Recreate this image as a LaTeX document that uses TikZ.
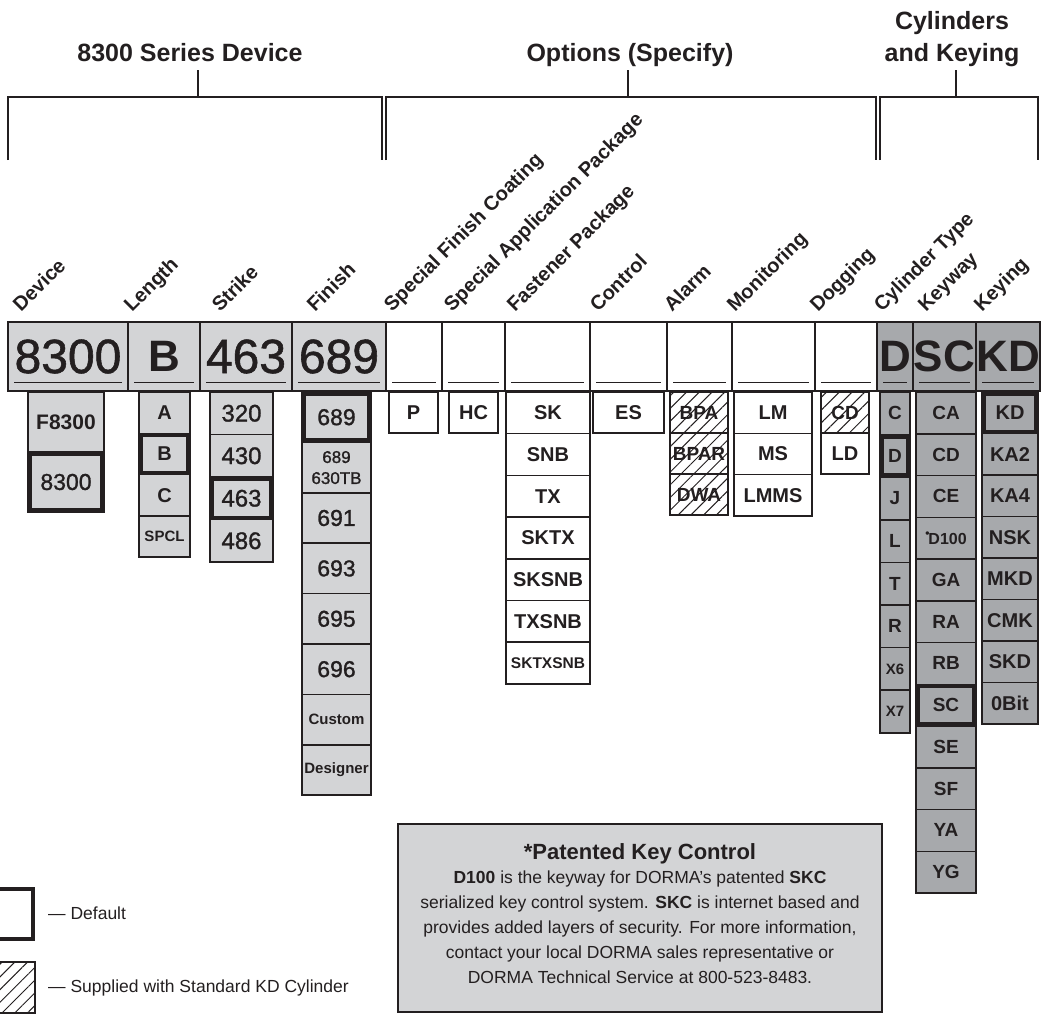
\documentclass[tikz,border=0pt]{standalone}
\usepackage{fontspec}
\setmainfont{Liberation Sans}
\newfontfamily\medfont{Liberation Sans}[FakeBold=1.2]
\usetikzlibrary{positioning,patterns.meta}
\definecolor{xInk}{RGB}{35,31,32}
\definecolor{xLightBox}{RGB}{211,212,214}
\definecolor{xDarkBox}{RGB}{167,169,172}
\newcommand{\fsz}[1]{\fontsize{#1}{#1}\selectfont}
\newcommand{\keydot}{\raisebox{.45em}{\fsz{12}•}\kern-1pt}

\tikzset{
  cell/.style={draw=xInk, line width=1.5pt, anchor=north west, inner sep=0pt, outer sep=0pt, align=center, text=xInk},
  gnum/.style={cell, fill=xLightBox, font=\medfont\fsz{23}},
  gbold/.style={cell, fill=xLightBox, font=\fsz{21}\bfseries},
  glet/.style={cell, fill=xLightBox, font=\fsz{20}\bfseries},
  gsm/.style={cell, fill=xLightBox, font=\fsz{15}\bfseries},
  gtwo/.style={cell, fill=xLightBox, font=\medfont\fontsize{17}{21}\selectfont, text width=56pt},
  wlet/.style={cell, fill=white, font=\fsz{20}\bfseries},
  wsm/.style={cell, fill=white, font=\fsz{15.5}\bfseries},
  hlet/.style={cell, pattern={Lines[angle=45,distance=9pt,line width=1pt]}, pattern color=xInk, font=\fsz{19}\bfseries},
  dlet/.style={cell, fill=xDarkBox, font=\fsz{19}\bfseries},
  dsm/.style={cell, fill=xDarkBox, font=\fsz{15}\bfseries},
  kwlet/.style={cell, fill=xDarkBox, font=\fsz{19}\bfseries},
  kwsm/.style={cell, fill=xDarkBox, font=\fsz{16}\bfseries},
  kglet/.style={cell, fill=xDarkBox, font=\fsz{20}\bfseries},
  dflt/.style={draw=xInk, line width=4pt},
  bignum/.style={font=\medfont\fsz{48}},
  biglet/.style={font=\fsz{44}\bfseries},
  barcell/.style={cell, minimum height=69},
  collab/.style={rotate=45, anchor=base west, inner sep=0pt, font=\fsz{20}\bfseries, text=xInk},
  sechead/.style={anchor=base, inner sep=0pt, font=\fsz{25}\bfseries, text=xInk},
  bracketline/.style={draw=xInk, line width=2pt},
}

\begin{document}
\begin{tikzpicture}[x=1pt,y=-1pt]
    \useasboundingbox (0,0) rectangle (1042,1015);

    % section headers and brackets
    \node[sechead] (secdev) at (190,61) {8300 Series Device};
    \node[sechead] (secopt) at (630,61) {Options (Specify)};
    \node[sechead] (seccyl) at (952,61) {and Keying};
    \node[sechead] (seccyltop) at (952,29) {Cylinders};
    \draw[bracketline] (8,160) |- (382,97) -- (382,160);
    \draw[bracketline] (386,160) |- (876,97) -- (876,160);
    \draw[bracketline] (880,160) |- (1038,97) -- (1038,160);
    \draw[bracketline] (198,70) -- (198,97);
    \draw[bracketline] (628,70) -- (628,97);
    \draw[bracketline] (956,70) -- (956,97);

    % column titles
    \foreach \lab/\xx [count=\i] in {Device/21, Length/132, Strike/220, Finish/315,
        Special Finish Coating/392, Special Application Package/452, Fastener Package/515,
        Control/598, Alarm/672, Monitoring/735, Dogging/818, Cylinder Type/882,
        Keyway/926, Keying/982}
      \node[collab] (hd\i) at (\xx,313) {\lab};

    % the model number bar
    \foreach \xa/\xb/\col/\val/\sty [count=\i] in {8/128/xLightBox/8300/bignum,
        128/200/xLightBox/B/biglet, 200/292/xLightBox/463/bignum, 292/386/xLightBox/689/bignum,
        386/442/white//bignum, 442/505/white//bignum, 505/590/white//bignum,
        590/667/white//bignum, 667/732/white//bignum, 732/815/white//bignum,
        815/877/white//bignum, 877/913/xDarkBox/D/biglet, 913/976/xDarkBox/SC/biglet,
        976/1040/xDarkBox/KD/biglet}
      \node[barcell, \sty, fill=\col, minimum width={\xb-\xa}] (bar\i) at (\xa,322) {\val};
    \foreach \i in {1,...,14}
      \draw[xInk, line width=0.8pt] ([shift={(6,-9)}]bar\i.south west) -- ([shift={(-6,-9)}]bar\i.south east);
    \draw[xInk, line width=2.5pt] (bar1.north west) rectangle (bar14.south east);

    % 8300 series device
    \foreach \lab/\sty [count=\i from 0] in {F8300/gbold, 8300/gnum}
      \node[\sty, minimum width=76, minimum height=60] (dev\i) at (28,392+60*\i) {\lab};
    \foreach \lab/\sty [count=\i from 0] in {A/glet, B/glet, C/glet, SPCL/gsm}
      \node[\sty, minimum width=51, minimum height=41.3] (len\i) at (139,392+41.3*\i) {\lab};
    \foreach \lab/\sty [count=\i from 0] in {320/gnum, 430/gnum, 463/gnum, 486/gnum}
      \node[\sty, font=\medfont\fsz{24}, minimum width=63, minimum height=42.5] (stk\i) at (210,392+42.5*\i) {\lab};
    \foreach \lab/\sty [count=\i from 0] in {689/gnum, 689 630TB/gtwo, 691/gnum, 693/gnum,
        695/gnum, 696/gnum, Custom/gsm, Designer/gsm}
      \node[\sty, minimum width=69, minimum height=50.4] (fin\i) at (302,392+50.4*\i) {\lab};

    % options
    \node[wlet, minimum width=49, minimum height=41] (sfc0) at (389,392) {P};
    \node[wlet, minimum width=49, minimum height=41] (sap0) at (449,392) {HC};
    \foreach \lab/\sty [count=\i from 0] in {SK/wlet, SNB/wlet, TX/wlet, SKTX/wlet,
        SKSNB/wlet, TXSNB/wlet, SKTXSNB/wsm}
      \node[\sty, minimum width=84, minimum height=41.7] (fst\i) at (506,392+41.7*\i) {\lab};
    \node[wlet, minimum width=71, minimum height=41] (ctl0) at (593,392) {ES};
    \foreach \lab [count=\i from 0] in {BPA, BPAR, DWA}
      \node[hlet, minimum width=58, minimum height=41] (alm\i) at (670,392+41*\i) {\lab};
    \foreach \lab [count=\i from 0] in {LM, MS, LMMS}
      \node[wlet, minimum width=78, minimum height=41.3] (mon\i) at (734,392+41.3*\i) {\lab};
    \node[hlet, minimum width=48, minimum height=41] (dog0) at (821,392) {CD};
    \node[wlet, minimum width=48, minimum height=41] (dog1) at (821,433) {LD};

    % cylinders and keying
    \foreach \lab/\sty [count=\i from 0] in {C/dlet, D/dlet, J/dlet, L/dlet, T/dlet,
        R/dlet, X6/dsm, X7/dsm}
      \node[\sty, minimum width=30, minimum height=42.6] (cyl\i) at (880,392+42.6*\i) {\lab};
    \foreach \lab/\sty [count=\i from 0] in {CA/kwlet, CD/kwlet, CE/kwlet, \keydot D100/kwsm,
        GA/kwlet, RA/kwlet, RB/kwlet, SC/kwlet, SE/kwlet, SF/kwlet, YA/kwlet, YG/kwlet}
      \node[\sty, minimum width=60, minimum height=41.75] (kwy\i) at (916,392+41.75*\i) {\lab};
    \foreach \lab [count=\i from 0] in {KD, KA2, KA4, NSK, MKD, CMK, SKD, 0Bit}
      \node[kglet, minimum width=56, minimum height=41.5] (kyg\i) at (982,392+41.5*\i) {\lab};

    % default choices
    \foreach \n in {dev1, len1, stk2, fin0, cyl1, kwy7, kyg0}
      \draw[dflt] ([shift={(2,2)}]\n.north west) rectangle ([shift={(-2,-2)}]\n.south east);

    % legend
    \node[cell, draw=none, fill=white, minimum width=55, minimum height=54] (legdef) at (-20,887) {};
    \draw[dflt] ([shift={(2,2)}]legdef.north west) rectangle ([shift={(-2,-2)}]legdef.south east);
    \node[anchor=west, inner sep=0pt, font=\fsz{17.5}, text=xInk] (legdeftxt) at (48,913) {— Default};
    \node[hlet, minimum width=55, minimum height=51] (leghat) at (-20,962) {};
    \node[anchor=west, inner sep=0pt, font=\fsz{17.5}, text=xInk] (leghattxt) at (48,988) {— Supplied with Standard KD Cylinder};

    % key control note
    \node[cell, line width=2pt, fill=xLightBox, minimum width=484, minimum height=188] (notebox) at (398,824) {};
    \node[anchor=base, inner sep=0pt, font=\fsz{22}\bfseries, text=xInk] (notetitle) at (640,859) {*Patented Key Control};
    \node[anchor=north, inner sep=0pt, align=center, font=\fontsize{17.5}{25}\selectfont, text=xInk] (notetext) at (640,871)
      {\textbf{D100} is the keyway for DORMA’s patented \textbf{SKC}\\
       serialized key control system. \textbf{SKC} is internet based and\\
       provides added layers of security. For more information,\\
       contact your local DORMA sales representative or\\
       DORMA Technical Service at 800-523-8483.};
\end{tikzpicture}
\end{document}
